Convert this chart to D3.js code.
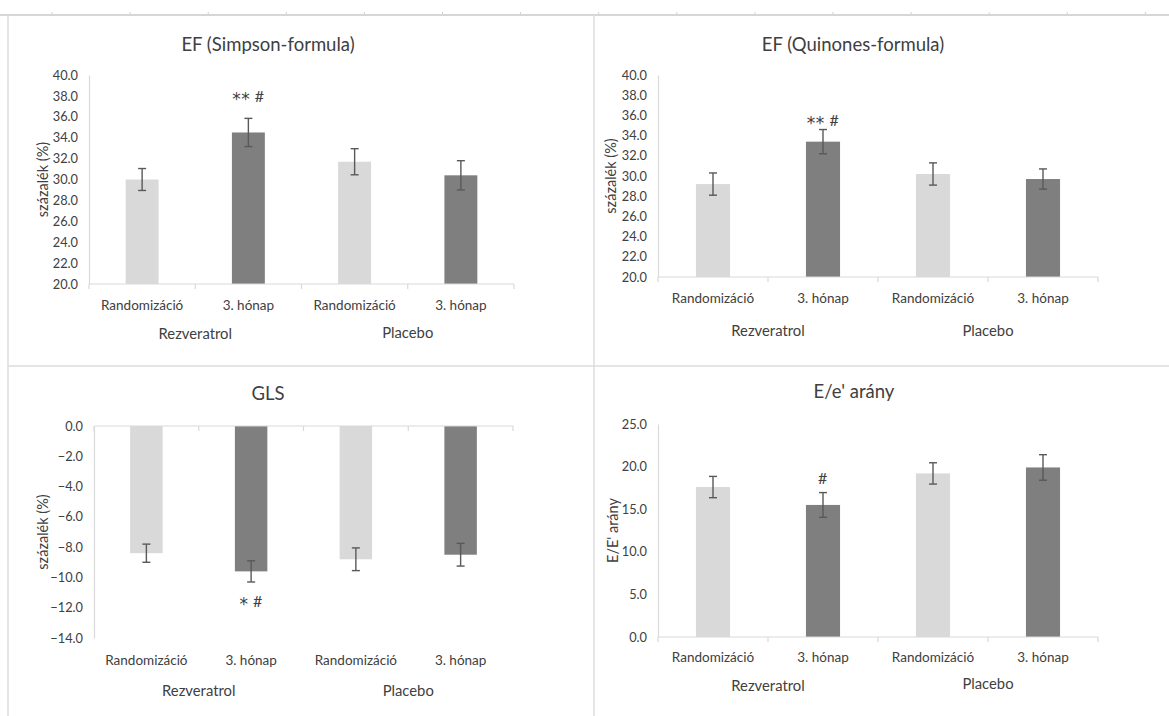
<!DOCTYPE html>
<html>
<head>
<meta charset="utf-8">
<script src="https://cdn.jsdelivr.net/npm/d3@7"></script>
<style>
  html, body { margin: 0; padding: 0; background: #fff; }
  svg { display: block; }
  text { font-family: Lato, "Open Sans", sans-serif; fill: #404040; }
</style>
</head>
<body>
<svg id="chart" width="1169" height="716"></svg>
<script>
// ---- data ----
const categories = ["Randomizáció", "3. hónap", "Randomizáció", "3. hónap"];
const groups = ["Rezveratrol", "Placebo"];

const efSimpson = [30.0, 34.5, 31.7, 30.4];
const efSimpsonErr = [1.05, 1.35, 1.25, 1.4];
const efSimpsonTicks = [20, 22, 24, 26, 28, 30, 32, 34, 36, 38, 40];
const efSimpsonMarks = ["", "** #", "", ""];

const efQuinones = [29.2, 33.4, 30.2, 29.7];
const efQuinonesErr = [1.1, 1.2, 1.1, 1.0];
const efQuinonesTicks = [20, 22, 24, 26, 28, 30, 32, 34, 36, 38, 40];
const efQuinonesMarks = ["", "** #", "", ""];

const gls = [-8.4, -9.6, -8.8, -8.5];
const glsErr = [0.6, 0.7, 0.75, 0.75];
const glsTicks = [0, -2, -4, -6, -8, -10, -12, -14];
const glsMarks = ["", "* #", "", ""];

const eRatio = [17.6, 15.5, 19.2, 19.9];
const eRatioErr = [1.25, 1.45, 1.25, 1.5];
const eRatioTicks = [0, 5, 10, 15, 20, 25];
const eRatioMarks = ["", "#", "", ""];

// bar fill per category: baseline light, 3rd month dark
const barColors = ["#d9d9d9", "#7f7f7f", "#d9d9d9", "#7f7f7f"];

const svg = d3.select("#chart");
svg.append("rect").attr("width", 1169).attr("height", 716).attr("fill", "#fff");

// sheet frame: header rule with column ticks, panel borders
const frame = svg.append("g");
frame.append("line").attr("x1", 0).attr("x2", 1169).attr("y1", 15).attr("y2", 15)
  .attr("stroke", "#d6d6d6").attr("stroke-width", 2);
d3.range(52, 1169, 78.1).forEach(x => {
  frame.append("line").attr("x1", x).attr("x2", x).attr("y1", 12).attr("y2", 14)
    .attr("stroke", "#d0d0d0").attr("stroke-width", 1);
});
frame.append("line").attr("x1", 8).attr("x2", 8).attr("y1", 15).attr("y2", 716)
  .attr("stroke", "#dcdcdc").attr("stroke-width", 1.5);
frame.append("line").attr("x1", 594).attr("x2", 594).attr("y1", 15).attr("y2", 716)
  .attr("stroke", "#dcdcdc").attr("stroke-width", 1.5);
frame.append("line").attr("x1", 8).attr("x2", 1169).attr("y1", 366).attr("y2", 366)
  .attr("stroke", "#dcdcdc").attr("stroke-width", 1.5);

const panels = [
  { title: "EF (Simpson-formula)", yTitle: "százalék (%)", values: efSimpson, errs: efSimpsonErr,
    ticks: efSimpsonTicks, marks: efSimpsonMarks, markAt: 38.1, domain: [20, 40], base: 20,
    x0: 89, x1: 514, yTop: 75, yBot: 284, titleX: 268, titleY: 44, yTitleX: 42,
    catY: 305, groupY: [333, 332] },
  { title: "EF (Quinones-formula)", yTitle: "százalék (%)", values: efQuinones, errs: efQuinonesErr,
    ticks: efQuinonesTicks, marks: efQuinonesMarks, markAt: 35.6, domain: [20, 40], base: 20,
    x0: 658, x1: 1098, yTop: 75, yBot: 277, titleX: 853, titleY: 44, yTitleX: 610,
    catY: 298, groupY: [330, 330] },
  { title: "GLS", yTitle: "százalék (%)", values: gls, errs: glsErr,
    ticks: glsTicks, marks: glsMarks, markAt: -11.5, domain: [-14, 0], base: 0,
    x0: 94, x1: 513, yTop: 426, yBot: 638, titleX: 268, titleY: 393, yTitleX: 42,
    catY: 660, groupY: [690, 690] },
  { title: "E/e' arány", yTitle: "E/E' arány", values: eRatio, errs: eRatioErr,
    ticks: eRatioTicks, marks: eRatioMarks, markAt: 18.8, domain: [0, 25], base: 0,
    x0: 658, x1: 1098, yTop: 424, yBot: 637, titleX: 854, titleY: 391, yTitleX: 612,
    catY: 657, groupY: [685, 683] }
];

// significance text: asterisks drawn in a heavier face, centred on the '#'
function drawMark(sel, str) {
  let offset = 0;
  for (const ch of str) {
    const star = ch === "*";
    const want = star ? 4 : 0;
    sel.append("tspan")
      .attr("dy", want - offset)
      .style("font-family", star ? "'DejaVu Sans', sans-serif" : "Lato, sans-serif")
      .style("font-size", star ? "17px" : "16px")
      .text(ch);
    offset = want;
  }
}

panels.forEach(p => {
  const g = svg.append("g");
  const x = d3.scaleBand().domain(d3.range(categories.length)).range([p.x0, p.x1])
    .paddingInner(0.69).paddingOuter(0.345);
  const xb = d3.scaleBand().domain(d3.range(categories.length)).range([p.x0, p.x1]);
  const y = d3.scaleLinear().domain(p.domain).range([p.yBot, p.yTop]);

  // title
  g.append("text").attr("x", p.titleX).attr("y", p.titleY)
    .attr("text-anchor", "middle").attr("dominant-baseline", "central")
    .style("font-size", "18.5px").text(p.title);

  // y axis
  const yAxis = d3.axisLeft(y).tickValues(p.ticks).tickSize(0).tickPadding(11)
    .tickFormat(d3.format(".1f"));
  const ya = g.append("g").attr("transform", `translate(${p.x0},0)`).call(yAxis);
  ya.select(".domain").attr("stroke", "#d9d9d9").attr("stroke-width", 1.2);
  ya.selectAll("text").style("font-size", "12.8px").attr("fill", "#404040")
    .style("font-family", "Lato, sans-serif");

  // y title
  g.append("text")
    .attr("transform", `translate(${p.yTitleX},${(p.yTop + p.yBot) / 2}) rotate(-90)`)
    .attr("text-anchor", "middle").attr("dominant-baseline", "central")
    .style("font-size", "14.5px").text(p.yTitle);

  // bars
  g.selectAll("rect.bar").data(p.values).join("rect").attr("class", "bar")
    .attr("x", (d, i) => x(i)).attr("width", x.bandwidth())
    .attr("y", d => Math.min(y(d), y(p.base)))
    .attr("height", d => Math.abs(y(d) - y(p.base)))
    .attr("fill", (d, i) => barColors[i]);

  // category axis on the base line, ticks at band edges
  const baseY = y(p.base);
  g.append("line").attr("x1", p.x0).attr("x2", p.x1).attr("y1", baseY).attr("y2", baseY)
    .attr("stroke", "#d9d9d9").attr("stroke-width", 1.2);
  const edges = d3.range(categories.length + 1).map(i => i < categories.length ? xb(i) : p.x1);
  g.selectAll("line.ctick").data(edges).join("line").attr("class", "ctick")
    .attr("x1", d => d).attr("x2", d => d).attr("y1", baseY).attr("y2", baseY + 5)
    .attr("stroke", "#d9d9d9").attr("stroke-width", 1.2);

  // category labels (placed below plot area)
  g.selectAll("text.cat").data(categories).join("text").attr("class", "cat")
    .attr("x", (d, i) => xb(i) + xb.bandwidth() / 2).attr("y", p.catY)
    .attr("text-anchor", "middle").attr("dominant-baseline", "central")
    .style("font-size", "13.5px").text(d => d);

  // group labels spanning two categories each
  g.selectAll("text.grp").data(groups).join("text").attr("class", "grp")
    .attr("x", (d, i) => xb(i * 2) + xb.bandwidth()).attr("y", (d, i) => p.groupY[i])
    .attr("text-anchor", "middle").attr("dominant-baseline", "central")
    .style("font-size", "14.8px").text(d => d);

  // error bars
  const eb = g.selectAll("g.err").data(p.values).join("g").attr("class", "err");
  const cx = i => x(i) + x.bandwidth() / 2;
  eb.append("line").attr("x1", (d, i) => cx(i)).attr("x2", (d, i) => cx(i))
    .attr("y1", (d, i) => y(d + p.errs[i])).attr("y2", (d, i) => y(d - p.errs[i]));
  eb.append("line").attr("x1", (d, i) => cx(i) - 4).attr("x2", (d, i) => cx(i) + 4)
    .attr("y1", (d, i) => y(d + p.errs[i])).attr("y2", (d, i) => y(d + p.errs[i]));
  eb.append("line").attr("x1", (d, i) => cx(i) - 4).attr("x2", (d, i) => cx(i) + 4)
    .attr("y1", (d, i) => y(d - p.errs[i])).attr("y2", (d, i) => y(d - p.errs[i]));
  eb.selectAll("line").attr("stroke", "#595959").attr("stroke-width", 1.4);

  // significance marks
  g.selectAll("text.mark").data(p.marks).join("text").attr("class", "mark")
    .attr("x", (d, i) => cx(i)).attr("y", y(p.markAt))
    .attr("text-anchor", "middle").attr("dominant-baseline", "central")
    .attr("fill", "#262626").style("letter-spacing", "0.5px")
    .each(function (d) { drawMark(d3.select(this), d); });
});
</script>
</body>
</html>
